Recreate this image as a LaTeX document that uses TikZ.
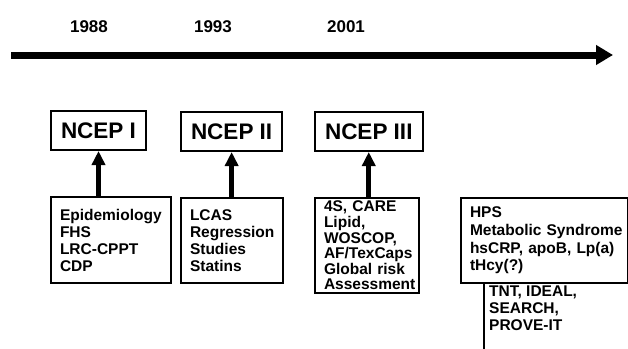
\documentclass[tikz,border=0pt]{standalone}
\usepackage{fontspec}
\setmainfont{Liberation Sans}
\usetikzlibrary{arrows.meta,positioning}

\begin{document}
\begin{tikzpicture}[
    x=1pt, y=-1pt,
    every node/.style={font=\bfseries},
    year/.style={font=\fontsize{17}{20}\selectfont\bfseries},
    stage/.style={draw, line width=2pt, minimum height=39pt, inner xsep=10pt,
                  anchor=south west, font=\fontsize{22.5}{27}\selectfont\bfseries},
    facts/.style={draw, line width=2pt, anchor=north west, align=left,
                  inner xsep=9pt, inner ysep=0pt,
                  font=\fontsize{15.5}{17}\selectfont\bfseries},
    arr/.style={-{Triangle[length=14pt, width=13pt]}, line width=5pt},
    timeline/.style={-{Triangle[length=17pt, width=19pt]}, line width=7pt},
  ]
  \path[use as bounding box, clip] (0,0) rectangle (628,348);

  % time axis
  \coordinate (t0) at (11,55);
  \coordinate (t1) at (613,55);
  \draw[timeline] (t0) -- (t1);
  \node[year] (y88) at (89,27)  {1988};
  \node[year] (y93) at (213,27) {1993};
  \node[year] (y01) at (346,27) {2001};

  % evidence boxes
  \node[facts, text width=102pt, minimum height=86pt] (epi) at (50,196)
    {Epidemiology\\FHS\\LRC-CPPT\\CDP};
  \node[facts, text width=84pt, minimum height=85pt] (lcas) at (180,197)
    {LCAS\\Regression\\Studies\\Statins};
  \node[facts, text width=86pt, minimum height=95pt,
        font=\fontsize{15.5}{15.6}\selectfont\bfseries] (care) at (314,197)
    {4S, CARE\\Lipid,\\WOSCOP,\\AF/TexCaps\\Global risk\\Assessment};
  \node[facts, text width=149pt, minimum height=85pt,
        font=\fontsize{15.5}{17.6}\selectfont\bfseries] (hps) at (460,197)
    {HPS\\\mbox{Metabolic Syndrome}\\hsCRP, apoB, Lp(a)\\tHcy(?)};
  \node[facts, text width=150pt, minimum height=80pt, inner xsep=6pt,
        anchor=north west] (tnt) at (483,282) {};
  \node[font=\fontsize{15.5}{17}\selectfont\bfseries, align=left, anchor=north west,
        inner sep=0pt] (tnttxt) at (489,286) {TNT, IDEAL,\\SEARCH,\\PROVE-IT};

  % guidelines
  \node[stage, above=45pt of epi.north west, anchor=south west]  (ncep1) {NCEP I};
  \node[stage, above=45pt of lcas.north west, anchor=south west] (ncep2) {NCEP II};
  \node[stage, above=45pt of care.north west, anchor=south west] (ncep3) {NCEP III};

  \draw[arr] (ncep1.south |- epi.north)  -- (ncep1.south);
  \draw[arr] (ncep2.south |- lcas.north) -- (ncep2.south);
  \draw[arr] (ncep3.south |- care.north) -- (ncep3.south);
\end{tikzpicture}
\end{document}
